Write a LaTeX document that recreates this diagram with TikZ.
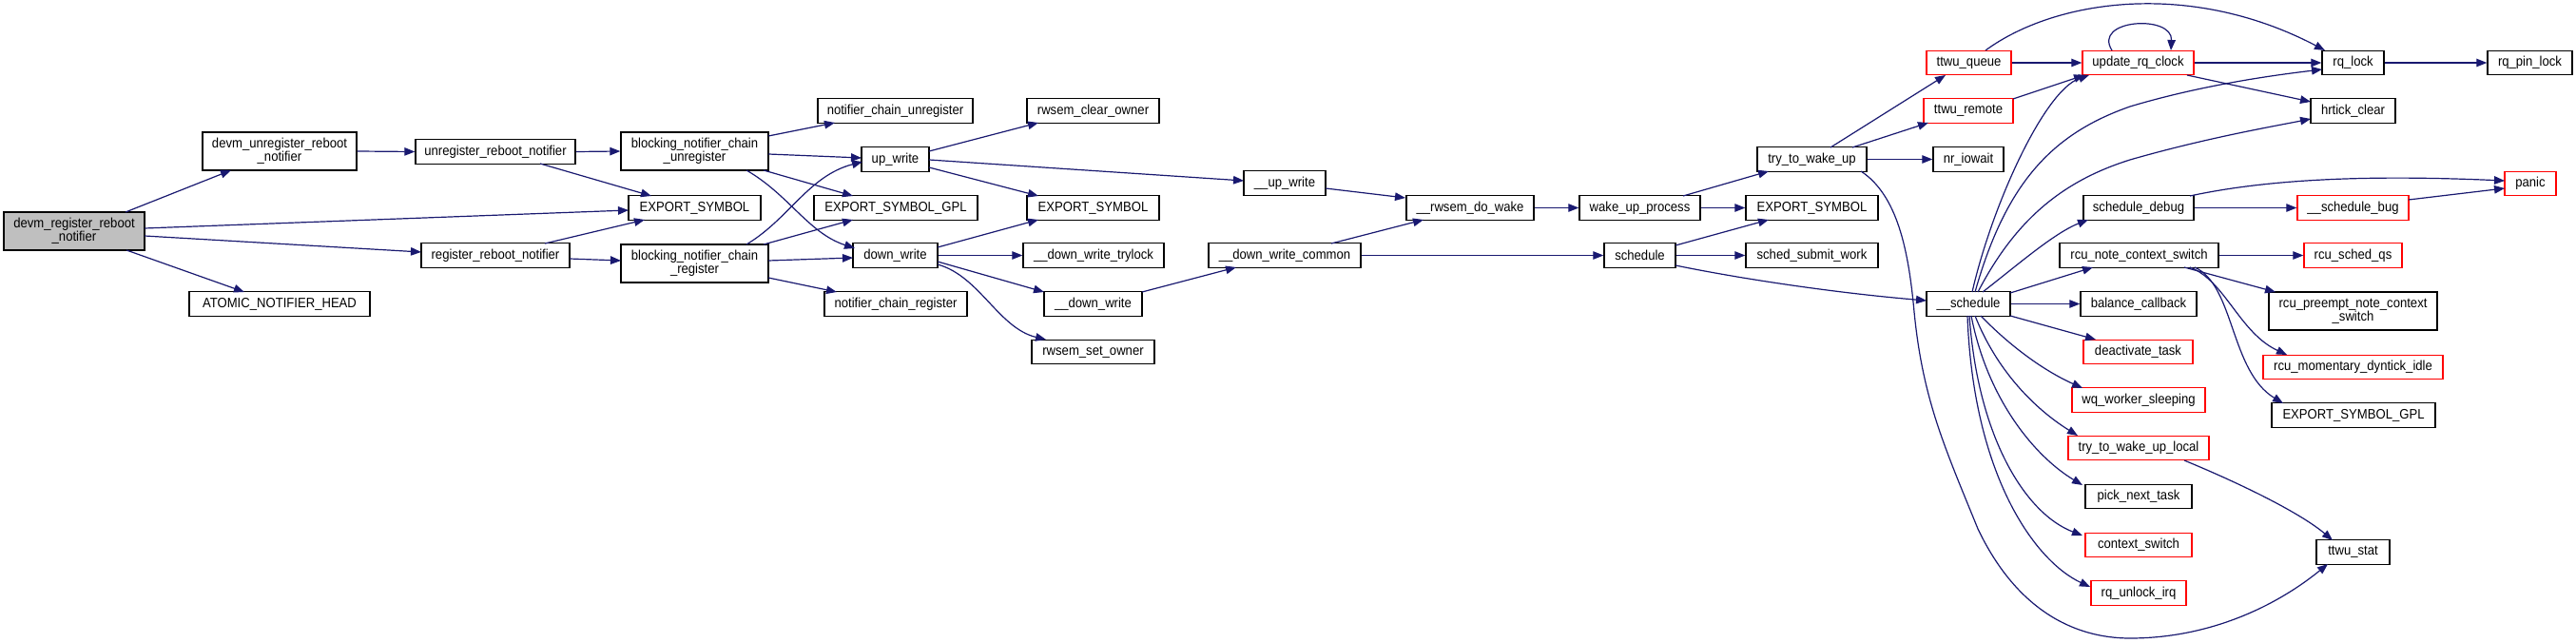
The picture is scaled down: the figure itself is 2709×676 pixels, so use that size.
\documentclass[tikz,border=0pt]{standalone}
\usepackage{fontspec}
\setmainfont{Liberation Sans}[FakeStretch=0.91]
\usetikzlibrary{arrows.meta}
\definecolor{edgeblue}{HTML}{191970}
\begin{document}
\begin{tikzpicture}[x=1pt,y=-1pt,
  fn/.style={draw=black, line width=1.4pt, fill=white, inner sep=0pt, minimum height=25.5pt, font=\fontsize{14.4}{13}\selectfont, align=center},
  fnr/.style={fn, draw=red},
  two/.style={minimum height=40pt},
  bw/.style={minimum width=#1pt},
  edge/.style={draw=edgeblue, line width=1.2pt, -{Triangle[length=11pt,width=8.5pt]}},
]
\useasboundingbox (0,0) rectangle (2709,676);
\fill[white] (0,0) rectangle (2709,676);
% nodes
\node[fn,two,bw=148,fill=gray!50] (dr) at (78,243) {devm\_register\_reboot\\\_notifier};
\node[fn,two,bw=162] (du) at (294,159) {devm\_unregister\_reboot\\\_notifier};
\node[fn,bw=190] (anh) at (294,319.5) {ATOMIC\_NOTIFIER\_HEAD};
\node[fn,bw=168] (urn) at (521,159.5) {unregister\_reboot\_notifier};
\node[fn,bw=156] (rrn) at (521,268.5) {register\_reboot\_notifier};
\node[fn,bw=139] (es1) at (730.5,218.5) {EXPORT\_SYMBOL};
\node[fn,two,bw=155] (bcu) at (730.5,159) {blocking\_notifier\_chain\\\_unregister};
\node[fn,two,bw=155] (bcr) at (730.5,277) {blocking\_notifier\_chain\\\_register};
\node[fn,bw=163] (ncu) at (941.5,116.5) {notifier\_chain\_unregister};
\node[fn,bw=71] (upw) at (941.5,167.5) {up\_write};
\node[fn,bw=172] (gpl1) at (942,218.5) {EXPORT\_SYMBOL\_GPL};
\node[fn,bw=89] (dnw) at (941.5,268.5) {down\_write};
\node[fn,bw=150] (ncr) at (942,319.5) {notifier\_chain\_register};
\node[fn,bw=139] (rco) at (1149.5,116.5) {rwsem\_clear\_owner};
\node[fn,bw=139] (es2) at (1149.5,218.5) {EXPORT\_SYMBOL};
\node[fn,bw=148] (dwt) at (1150,268.5) {\_\_down\_write\_trylock};
\node[fn,bw=103] (udw) at (1149.5,319.5) {\_\_down\_write};
\node[fn,bw=129] (rso) at (1149.5,370) {rwsem\_set\_owner};
\node[fn,bw=86] (uuw) at (1351,192.5) {\_\_up\_write};
\node[fn,bw=160] (dwc) at (1351,268.5) {\_\_down\_write\_common};
\node[fn,bw=134] (rdw) at (1546,218.5) {\_\_rwsem\_do\_wake};
\node[fn,bw=127] (wup) at (1724.5,218.5) {wake\_up\_process};
\node[fn,bw=75] (sch) at (1724.5,268.5) {schedule};
\node[fn,bw=115] (ttw) at (1905.5,167.5) {try\_to\_wake\_up};
\node[fn,bw=139] (es3) at (1905.5,218.5) {EXPORT\_SYMBOL};
\node[fn,bw=139] (ssw) at (1905.5,268.5) {sched\_submit\_work};
\node[fnr,bw=89] (ttq) at (2070.5,66) {ttwu\_queue};
\node[fnr,bw=94] (ttr) at (2070,116.5) {ttwu\_remote};
\node[fn,bw=74] (nio) at (2070,167.5) {nr\_iowait};
\node[fn,bw=88] (usch) at (2070,319.5) {\_\_schedule};
\node[fnr,bw=117] (urc) at (2248.5,66) {update\_rq\_clock};
\node[fn,bw=116] (sdb) at (2249,218.5) {schedule\_debug};
\node[fn,bw=167] (rnc) at (2249.5,268.5) {rcu\_note\_context\_switch};
\node[fn,bw=122] (bcb) at (2249,319.5) {balance\_callback};
\node[fnr,bw=115] (dtk) at (2248.5,370) {deactivate\_task};
\node[fnr,bw=140] (wqs) at (2249,420.5) {wq\_worker\_sleeping};
\node[fnr,bw=148] (twl) at (2249,471) {try\_to\_wake\_up\_local};
\node[fn,bw=112] (pnt) at (2249,522) {pick\_next\_task};
\node[fnr,bw=112] (csw) at (2249,573) {context\_switch};
\node[fnr,bw=100] (rui) at (2249,623.5) {rq\_unlock\_irq};
\node[fn,bw=65] (rql) at (2474.5,66) {rq\_lock};
\node[fn,bw=89] (hrc) at (2474.5,116.5) {hrtick\_clear};
\node[fnr,bw=117] (sbg) at (2474.5,218.5) {\_\_schedule\_bug};
\node[fnr,bw=103] (rsq) at (2474.5,268.5) {rcu\_sched\_qs};
\node[fn,two,bw=177] (rpn) at (2474.5,327) {rcu\_preempt\_note\_context\\\_switch};
\node[fnr,bw=189] (rmd) at (2474.5,386) {rcu\_momentary\_dyntick\_idle};
\node[fn,bw=172] (gpl2) at (2475,436.5) {EXPORT\_SYMBOL\_GPL};
\node[fn,bw=77] (tst) at (2474.5,580.5) {ttwu\_stat};
\node[fnr,bw=54] (pan) at (2661,193) {panic};
\node[fn,bw=89] (rpl) at (2660.5,66) {rq\_pin\_lock};
% edges
\draw[edge] ([shift={(54,-20)}]dr.center) -- ([shift={(-51,20)}]du.center);
\draw[edge] ([shift={(74,-3)}]dr.center) -- ([shift={(-69.5,2.5)}]es1.center);
\draw[edge] ([shift={(74,5)}]dr.center) -- ([shift={(-78,-3.5)}]rrn.center);
\draw[edge] ([shift={(55,20)}]dr.center) -- ([shift={(-37,-12.5)}]anh.center);
\draw[edge] (du.east) -- (urn.west);
\draw[edge] (urn.east) -- (bcu.west);
\draw[edge] ([shift={(47,12.5)}]urn.center) -- ([shift={(-45.5,-12.5)}]es1.center);
\draw[edge] ([shift={(52,-12.5)}]rrn.center) -- ([shift={(-52.5,12.5)}]es1.center);
\draw[edge] ([shift={(78,3.5)}]rrn.center) -- ([shift={(-77.5,-3)}]bcr.center);
\draw[edge] ([shift={(77.5,-16)}]bcu.center) -- ([shift={(-63.5,12.5)}]ncu.center);
\draw[edge] ([shift={(77.5,3)}]bcu.center) -- ([shift={(-35.5,-1.5)}]upw.center);
\draw[edge] ([shift={(72.5,20)}]bcu.center) -- ([shift={(-45,-12.5)}]gpl1.center);
\draw[edge] ([shift={(54.5,20)}]bcu.center) .. controls (830,205) and (850,245) .. ([shift={(-42.5,-7.5)}]dnw.center);
\draw[edge] ([shift={(54.5,-20)}]bcr.center) .. controls (830,230) and (850,185) .. ([shift={(-34.5,2.5)}]upw.center);
\draw[edge] ([shift={(72.5,-20)}]bcr.center) -- ([shift={(-45,12.5)}]gpl1.center);
\draw[edge] ([shift={(77.5,-3)}]bcr.center) -- ([shift={(-44.5,2.5)}]dnw.center);
\draw[edge] ([shift={(77.5,15)}]bcr.center) -- ([shift={(-62,-12.5)}]ncr.center);
\draw[edge] ([shift={(35.5,-8.5)}]upw.center) -- ([shift={(-57.5,12.5)}]rco.center);
\draw[edge] ([shift={(35.5,0.5)}]upw.center) -- ([shift={(-43,-2.5)}]uuw.center);
\draw[edge] ([shift={(35.5,8.5)}]upw.center) -- ([shift={(-57.5,-12.5)}]es2.center);
\draw[edge] ([shift={(44.5,-8.5)}]dnw.center) -- ([shift={(-57.5,12.5)}]es2.center);
\draw[edge] (dnw.east) -- (dwt.west);
\draw[edge] ([shift={(44.5,6.5)}]dnw.center) -- ([shift={(-51.5,-12.5)}]udw.center);
\draw[edge] ([shift={(44.5,9.5)}]dnw.center) .. controls (1030,290) and (1050,345) .. ([shift={(-49.5,-13)}]rso.center);
\draw[edge] ([shift={(51.5,-12.5)}]udw.center) -- ([shift={(-51,12.5)}]dwc.center);
\draw[edge] ([shift={(43,5.5)}]uuw.center) -- ([shift={(-68,-10.5)}]rdw.center);
\draw[edge] ([shift={(49,-12.5)}]dwc.center) -- ([shift={(-49,12.5)}]rdw.center);
\draw[edge] (dwc.east) -- (sch.west);
\draw[edge] (rdw.east) -- (wup.west);
\draw[edge] ([shift={(45.5,-12.5)}]wup.center) -- ([shift={(-45.5,12.5)}]ttw.center);
\draw[edge] (wup.east) -- (es3.west);
\draw[edge] ([shift={(37.5,-10.5)}]sch.center) -- ([shift={(-45.5,12.5)}]es3.center);
\draw[edge] (sch.east) -- (ssw.west);
\draw[edge] ([shift={(37.5,10.5)}]sch.center) .. controls (1830,293) and (1930,308) .. ([shift={(-44,-3.5)}]usch.center);
\draw[edge] ([shift={(19.5,-12.5)}]ttw.center) -- ([shift={(-24.5,13)}]ttq.center);
\draw[edge] ([shift={(42.5,-12.5)}]ttw.center) -- ([shift={(-42,12.5)}]ttr.center);
\draw[edge] (ttw.east) -- (nio.west);
\draw[edge] ([shift={(51.5,12.5)}]ttw.center) .. controls (1995,205) and (2007,262) .. (2013,328)
  .. controls (2022,420) and (2045,470) .. (2080,556)
  .. controls (2120,640) and (2180,671) .. (2240,671)
  .. controls (2320,671) and (2390,640) .. ([shift={(-26.5,12.5)}]tst.center);
\draw[edge] (ttq.east) -- (urc.west);
\draw[edge] ([shift={(17.5,-13)}]ttq.center) .. controls (2160,0) and (2302,-22) .. ([shift={(-29.5,-13)}]rql.center);
\draw[edge] ([shift={(47,-12.5)}]ttr.center) -- ([shift={(-56.5,13)}]urc.center);
\draw[edge] ([shift={(-27.5,-13)}]urc.center) .. controls (2200,20) and (2285,15) .. ([shift={(34.5,-13)}]urc.center);
\draw[edge] (urc.east) -- (rql.west);
\draw[edge] ([shift={(51.5,13)}]urc.center) -- ([shift={(-44.5,-9.5)}]hrc.center);
\draw[edge] (rql.east) -- (rpl.west);
\draw[edge] ([shift={(4,-12.5)}]usch.center) .. controls (2095,215) and (2150,95) .. ([shift={(-51.5,13)}]urc.center);
\draw[edge] ([shift={(7,-12.5)}]usch.center) .. controls (2110,190) and (2160,140) .. (2240,112)
  .. controls (2320,88) and (2400,78) .. ([shift={(-32.5,7)}]rql.center);
\draw[edge] ([shift={(10,-12.5)}]usch.center) .. controls (2120,230) and (2170,190) .. (2240,168)
  .. controls (2320,145) and (2390,133) .. ([shift={(-44.5,8.5)}]hrc.center);
\draw[edge] ([shift={(15,-12.5)}]usch.center) .. controls (2120,280) and (2160,245) .. ([shift={(-53,12.5)}]sdb.center);
\draw[edge] ([shift={(44,-11.5)}]usch.center) -- ([shift={(-48.5,12.5)}]rnc.center);
\draw[edge] (usch.east) -- (bcb.west);
\draw[edge] ([shift={(44,12.5)}]usch.center) -- ([shift={(-44.5,-13)}]dtk.center);
\draw[edge] ([shift={(13,12.5)}]usch.center) .. controls (2115,365) and (2150,390) .. ([shift={(-59,-12.5)}]wqs.center);
\draw[edge] ([shift={(7,12.5)}]usch.center) .. controls (2100,390) and (2140,430) .. ([shift={(-64,-13)}]twl.center);
\draw[edge] ([shift={(3,12.5)}]usch.center) .. controls (2090,420) and (2140,480) .. ([shift={(-59,-12)}]pnt.center);
\draw[edge] ([shift={(1,12.5)}]usch.center) .. controls (2080,460) and (2130,540) .. ([shift={(-59,-10)}]csw.center);
\draw[edge] ([shift={(-1,12.5)}]usch.center) .. controls (2075,500) and (2140,590) .. ([shift={(-51,-6.5)}]rui.center);
\draw[edge] ([shift={(54,-12.5)}]sdb.center) .. controls (2400,185) and (2520,185) .. ([shift={(-27,-3)}]pan.center);
\draw[edge] (sdb.east) -- (sbg.west);
\draw[edge] ([shift={(58.5,-8.5)}]sbg.center) -- ([shift={(-27,5)}]pan.center);
\draw[edge] (rnc.east) -- (rsq.west);
\draw[edge] ([shift={(47.5,12.5)}]rnc.center) -- ([shift={(-81.5,-20)}]rpn.center);
\draw[edge] ([shift={(53.5,12.5)}]rnc.center) .. controls (2340,295) and (2355,350) .. ([shift={(-69.5,-13)}]rmd.center);
\draw[edge] ([shift={(58.5,12.5)}]rnc.center) .. controls (2350,300) and (2345,390) .. ([shift={(-74,-12.5)}]gpl2.center);
\draw[edge] ([shift={(48,13)}]twl.center) .. controls (2360,510) and (2420,540) .. ([shift={(-21.5,-12.5)}]tst.center);
\end{tikzpicture}
\end{document}
